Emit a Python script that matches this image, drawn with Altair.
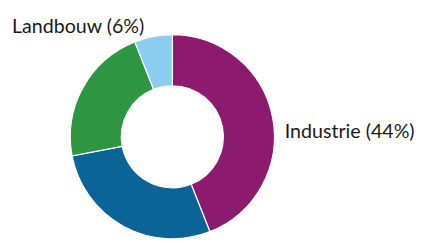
import altair as alt
import pandas as pd

categories = ["Industrie", "Verkeer", "Huishoudens", "Landbouw"]
shares = [44, 28, 22, 6]
colors = ["#8C1A6F", "#0B6497", "#2E9640", "#8ACDEE"]

df = pd.DataFrame({"cat": categories, "share": shares, "ord": list(range(len(categories)))})

W, H = 427, 234
cx, cy = 167.5, 129

donut = alt.Chart(df).mark_arc(
    outerRadius=104, innerRadius=52, stroke="white", strokeWidth=1.2
).encode(
    theta=alt.Theta("share:Q", stack=True),
    order=alt.Order("ord:Q"),
    color=alt.Color("cat:N", scale=alt.Scale(domain=categories, range=colors), legend=None),
    x=alt.value(cx),
    y=alt.value(cy),
)

label_text = [f"{categories[3]} ({shares[3]}%)", f"{categories[0]} ({shares[0]}%)"]

lab1 = alt.Chart(pd.DataFrame({"t": [label_text[0]]})).mark_text(
    font="Lato", fontSize=20, color="#1a1a1a", align="left", baseline="alphabetic"
).encode(text="t:N", x=alt.value(4), y=alt.value(23.5))

lab2 = alt.Chart(pd.DataFrame({"t": [label_text[1]]})).mark_text(
    font="Lato", fontSize=20, color="#1a1a1a", align="left", baseline="alphabetic"
).encode(text="t:N", x=alt.value(282), y=alt.value(130.5))

chart = alt.layer(donut, lab1, lab2).properties(
    width=W, height=H, padding=0, autosize=alt.AutoSizeParams(type="none")
).configure_view(stroke=None)

chart.save("out.html", embed_options={"renderer": "svg", "actions": False})
